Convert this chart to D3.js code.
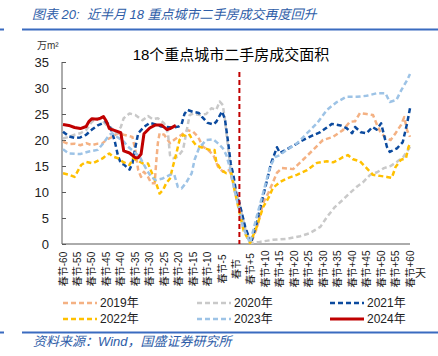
<!DOCTYPE html>
<html><head><meta charset="utf-8">
<script src="https://cdn.jsdelivr.net/npm/d3@7"></script>
<style>body{margin:0;background:#fff;}svg{display:block;}</style>
</head><body>
<script>
const FONT = '"Liberation Sans","Noto Sans CJK SC",sans-serif';

const tickDays = [-60,-55,-50,-45,-40,-35,-30,-25,-20,-15,-10,-5,0,5,10,15,20,25,30,35,40,45,50,55,60];
const tickLabels = ["春节-60","春节-55","春节-50","春节-45","春节-40","春节-35","春节-30","春节-25","春节-20","春节-15","春节-10","春节-5","春节","春节+5","春节+10","春节+15","春节+20","春节+25","春节+30","春节+35","春节+40","春节+45","春节+50","春节+55","春节+60"];
const yTicks = [0,5,10,15,20,25,30,35];

const days2019 = [-60,-58,-56,-54,-52,-50,-48,-46.5,-45,-43,-41,-40,-39,-36,-35,-34,-33,-32,-30.6,-29.5,-28.3,-27.7,-27.2,-26.6,-25,-23,-21.4,-19,-17,-15,-13.3,-11.6,-10,-8,-6.4,-4.7,-3.5,-2.4,-1.2,0,1.7,3.5,5,7,9.2,11,14,15.7,19.6,23,26.5,29.9,33.4,36.8,39.2,41,42.7,45,47.2,48.6,49.8,51.6,53.3,55,56.9,58,59,60];
const vals2019 = [19.7,19.2,19.3,19.0,19.4,19.0,19.3,19.3,20.0,20.6,21.3,21.2,21.0,20.6,18.1,14.2,12.9,13.9,12.9,11.7,11.7,16.2,19.4,21.3,21.0,19.4,20.1,21.0,21.9,21.6,20.6,18.7,18.2,17.1,14.9,13.9,14.2,14.2,11.7,9.1,5.3,2.0,0.2,3.0,7.9,9.8,13.7,14.6,14.4,16.2,18.1,20.0,20.6,21.9,23.5,23.6,25.2,25.0,24.8,22.9,21.5,20.4,20.0,21.3,22.9,24.4,21.9,20.6];

const days2020 = [-60,-58,-56,-54,-52,-50,-48,-46.5,-45,-43,-41.5,-40,-39,-37,-35,-32.5,-30.6,-29,-27.2,-25,-23.7,-23,-22,-20.3,-18.5,-17.5,-16.2,-15,-12.8,-10.5,-8.7,-7,-5.8,-4.7,-4,-3,-2,-0.7,1,3,5,8,12.6,17.4,22,25.4,29,31.3,34,36.8,39.2,41.6,43.8,46.2,48.6,51,53.3,55.5,57.6,59.5,60];
const vals2020 = [20.3,20.6,21.0,21.3,21.9,23.5,24.2,23.8,22.9,22.2,21.3,22.5,24.2,25.1,24.8,23.8,24.6,24.0,24.2,23.2,21.3,17.1,16.5,16.8,18.1,21.0,24.8,25.1,24.8,25.0,26.1,25.8,27.4,26.7,23.8,19.0,14.2,11.0,7.8,3.0,0.2,0.4,0.8,1.0,1.5,2.1,3.3,5.2,7.1,8.5,9.8,11.0,11.9,13.3,13.8,14.6,15.0,15.8,16.7,18.2,18.7];

const days2021 = [-60,-58,-56,-54,-52,-50,-48,-46,-45,-44,-43,-42,-41,-40,-39,-37,-36,-35,-34,-32,-30,-28,-26,-24,-22,-20,-19,-18,-17,-15,-13,-12,-10,-8,-7,-5,-4,-3,-2,-1,0,1,3,5,7,8,10,12,14,15,17,20,23,26,29,31,33,36,38,40,41,43,45,47,48.5,50,51,52,53,55.5,57.5,59,60];
const vals2021 = [21.6,20.7,20.4,20.5,21.0,22.0,22.8,23.3,23.5,22.8,21.5,19.5,17.0,15.5,15.3,14.3,15.5,18.5,21.3,22.5,23.3,23.0,22.6,22.5,22.4,22.6,23.0,25.0,25.8,25.4,25.2,24.5,23.3,23.0,23.5,25.5,24.0,20.0,15.5,13.0,9.5,7.9,3.3,0.2,4.0,6.5,11.0,15.6,18.6,17.5,18.1,19.0,20.0,20.8,21.5,22.3,23.1,22.8,22.3,21.3,22.5,21.5,21.3,22.5,22.0,23.2,21.0,18.7,17.7,18.4,19.6,23.2,26.1];

const days2022 = [-60,-57.7,-56,-55,-53.7,-52,-49.7,-48,-46.2,-45,-44,-42.7,-41,-39.3,-37,-35.8,-34,-32.4,-30.6,-29,-27.8,-26.6,-25.4,-24.3,-23,-22,-20.8,-19.7,-18.5,-17.4,-16.2,-15,-14,-12.8,-11,-9.3,-7.6,-7,-5.3,-3.5,-1.8,-0.7,1.1,2.5,4.7,7,9.2,11,12.6,15,17.4,20.9,24.4,27.8,31.3,33.4,35.3,36.8,38.5,40.3,42.7,45,47.2,49.6,52,53.7,55,56.9,58.6,59.5,60];
const vals2022 = [13.6,13.3,12.9,13.9,15.2,15.8,15.5,16.0,16.5,17.1,17.4,16.8,16.5,15.8,15.2,16.5,16.0,15.5,15.5,13.3,11.7,9.7,10.4,11.7,12.6,14.9,17.4,20.0,21.0,20.7,21.0,19.7,19.0,18.7,18.4,18.1,18.1,15.8,14.2,13.6,13.6,10.4,5.9,2.5,0.2,3.3,7.1,8.8,10.8,11.9,12.6,13.3,14.2,15.6,15.9,15.7,16.2,16.7,17.1,16.3,15.9,14.6,13.3,13.1,12.9,12.7,14.8,16.2,16.5,18.7,19.2];

const days2023 = [-60,-58,-54,-51,-48,-46,-44,-43,-41,-39,-37.5,-36,-33.5,-31,-29.5,-28,-25.5,-23,-21.5,-20.3,-19,-17.5,-15.5,-14.5,-13,-10.5,-8,-6.5,-4.7,-3.5,-2.4,-0.7,1,2.2,4.7,7,9.2,11.6,13.3,15,17.4,21,24.4,27.8,31.3,34.7,38,41.6,45,48.6,51.5,53,55.3,57,59,60];
const vals2023 = [18.2,17.4,17.3,17.8,18.1,19.4,21.0,21.3,20.5,19.7,18.7,18.0,16.8,14.2,12.9,12.3,12.6,13.3,13.3,11.0,10.7,11.7,13.6,16.2,18.4,20.0,20.1,19.4,18.4,17.1,14.9,10.4,6.5,3.3,0.2,5.3,9.8,14.8,16.7,17.1,18.1,19.4,21.3,23.2,25.8,27.3,28.3,28.3,28.5,29.0,29.0,27.3,27.7,29.6,31.5,32.7];

const days2024 = [-60,-58,-56,-54,-52,-51,-50,-48,-47,-46,-45,-44,-42,-40,-39,-37,-35,-34,-33,-32,-30,-28,-26,-24,-23,-21];
const vals2024 = [23.0,22.8,22.4,22.2,22.6,23.6,24.1,24.0,24.2,24.5,23.6,22.2,21.8,21.4,17.9,17.5,16.6,16.6,17.3,21.2,22.3,22.9,22.9,22.0,22.2,22.8];

const seriesNames = ["2019年","2020年","2021年","2022年","2023年","2024年"];
const seriesColors = ["#F4B183","#C9C9C9","#0B4A9E","#FFC000","#9DC3E6","#C00000"];

const data = [
  {name: seriesNames[0], days: days2019, vals: vals2019, color: seriesColors[0], dash: true},
  {name: seriesNames[1], days: days2020, vals: vals2020, color: seriesColors[1], dash: true},
  {name: seriesNames[2], days: days2021, vals: vals2021, color: seriesColors[2], dash: true},
  {name: seriesNames[3], days: days2022, vals: vals2022, color: seriesColors[3], dash: true},
  {name: seriesNames[4], days: days2023, vals: vals2023, color: seriesColors[4], dash: true},
  {name: seriesNames[5], days: days2024, vals: vals2024, color: seriesColors[5], dash: false}
];

const W = 438, H = 356;
const svg = d3.select("body").append("svg").attr("width", W).attr("height", H)
  .style("font-family", FONT);

const blue = "#2E5DA8";
// header
svg.append("text").attr("x", 32).attr("y", 19).attr("font-size", 13).attr("font-style", "italic")
  .style("white-space", "pre")
  .attr("fill", blue).text("图表 20:  近半月 18 重点城市二手房成交再度回升");
svg.append("rect").attr("x", 0).attr("y", 28.5).attr("width", 4).attr("height", 2).attr("fill", "#3A6BC0");
svg.append("rect").attr("x", 22).attr("y", 28.5).attr("width", 416).attr("height", 2).attr("fill", "#3A6BC0");
svg.append("rect").attr("x", 0).attr("y", 331.5).attr("width", 4).attr("height", 2).attr("fill", "#3A6BC0");
svg.append("rect").attr("x", 22).attr("y", 331.5).attr("width", 416).attr("height", 2).attr("fill", "#3A6BC0");
svg.append("text").attr("x", 33).attr("y", 346).attr("font-size", 13).attr("font-style", "italic")
  .attr("fill", blue).text("资料来源：Wind，国盛证券研究所");

const x = d3.scaleLinear().domain([-60, 60]).range([63, 410]);
const y = d3.scaleLinear().domain([0, 35]).range([244, 62]);

// chart title & unit
svg.append("text").attr("x", 231).attr("y", 60).attr("text-anchor", "middle").attr("font-size", 15)
  .attr("fill", "#000").text("18个重点城市二手房成交面积");
svg.append("text").attr("x", 37).attr("y", 49).attr("font-size", 10).attr("fill", "#333").text("万m²");

// y axis
const yAxis = d3.axisRight(y).tickValues(yTicks).tickSize(4).tickFormat("");
const ya = svg.append("g").attr("transform", "translate(62,0)").call(yAxis);
ya.selectAll("path,line").attr("stroke", "#595959");
ya.select(".domain").attr("d", `M0,${y(35)}V${y(0)}`);
svg.append("g").selectAll("text").data(yTicks).join("text")
  .attr("x", 49).attr("y", d => y(d)).attr("dy", "0.35em").attr("text-anchor", "end")
  .attr("font-size", 13).attr("fill", "#222").text(d => d);

// x axis line
svg.append("line").attr("x1", 62).attr("x2", 410).attr("y1", y(0)).attr("y2", y(0))
  .attr("stroke", "#595959").attr("stroke-width", 1);
svg.append("g").selectAll("text").data(tickDays).join("text")
  .attr("transform", (d) => `translate(${x(d)},269) rotate(-90)`)
  .attr("text-anchor", "middle").attr("dy", "0.35em").attr("font-size", 10).attr("fill", "#222")
  .text((d, i) => tickLabels[i]);
svg.append("text").attr("x", 415).attr("y", 277).attr("font-size", 11).attr("fill", "#222").text("天");

// series
const line = d3.line().x(d => x(d[0])).y(d => y(d[1]));
data.forEach(s => {
  const pts = s.days.map((d, i) => [d, s.vals[i]]);
  svg.append("path").datum(pts).attr("d", line).attr("fill", "none")
    .attr("stroke", s.color).attr("stroke-width", s.dash ? 2.5 : 3)
    .attr("stroke-dasharray", s.dash ? "5,3" : null)
    .attr("stroke-linejoin", "round");
});

// Spring Festival marker
svg.append("line").attr("x1", x(1)).attr("x2", x(1)).attr("y1", 72).attr("y2", y(0))
  .attr("stroke", "#C00000").attr("stroke-width", 2).attr("stroke-dasharray", "5,3");

// legend
const legCols = [63, 197, 330];
const legRows = [303, 319];
data.forEach((s, i) => {
  const lx = legCols[i % 3], ly = legRows[Math.floor(i / 3)];
  svg.append("line").attr("x1", lx).attr("x2", lx + 34).attr("y1", ly).attr("y2", ly)
    .attr("stroke", s.color).attr("stroke-width", s.dash ? 2.5 : 3)
    .attr("stroke-dasharray", s.dash ? "5,3" : null);
  svg.append("text").attr("x", lx + 37).attr("y", ly).attr("dy", "0.36em").attr("font-size", 12)
    .attr("fill", "#222").text(s.name);
});
</script>
</body></html>
